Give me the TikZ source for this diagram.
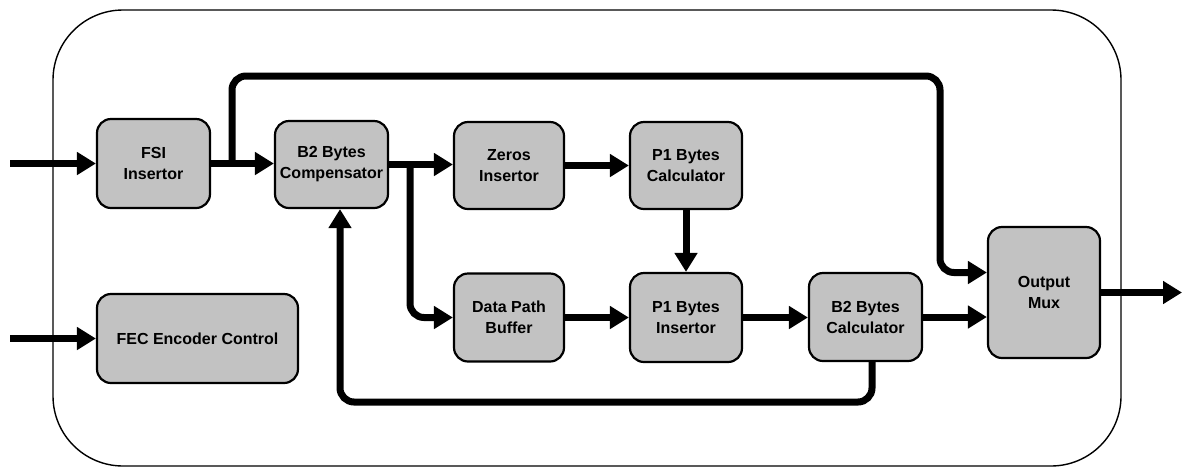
\documentclass[tikz,border=0pt]{standalone}
\usepackage{fontspec}
\setmainfont{Liberation Sans}
\usetikzlibrary{arrows.meta}

\tikzset{
  block/.style={draw=black, line width=2.2pt, rounded corners=14pt, fill=black!24,
    inner sep=0pt, align=center, font=\fontsize{16}{21}\selectfont\bfseries},
  flow/.style={line width=7pt, rounded corners=14pt,
    -{Triangle[length=19pt,width=22pt]}},
  frame/.style={draw=black, line width=1.4pt, rounded corners=70pt}
}

\begin{document}
\begin{tikzpicture}[x=1pt,y=-1pt]
  \useasboundingbox (0,0) rectangle (1185,467);

  % enclosing module outline
  \draw[frame] (53,10) rectangle (1121,466);

  % processing blocks
  \node[block, minimum width=113pt, minimum height=89pt] (fsi)    at (153.5,163.5) {FSI\\Insertor};
  \node[block, minimum width=113pt, minimum height=87pt] (b2comp) at (331.5,164.5) {B2 Bytes\\Compensator};
  \node[block, minimum width=110pt, minimum height=87pt] (zeros)  at (509,165.5)   {Zeros\\Insertor};
  \node[block, minimum width=112pt, minimum height=87pt] (p1calc) at (686,165.5)   {P1 Bytes\\Calculator};
  \node[block, minimum width=110pt, minimum height=88pt] (dpb)    at (509,317.5)   {Data Path\\Buffer};
  \node[block, minimum width=112pt, minimum height=89pt] (p1ins)  at (686,317.5)   {P1 Bytes\\Insertor};
  \node[block, minimum width=113pt, minimum height=88pt] (b2calc) at (865.5,317)   {B2 Bytes\\Calculator};
  \node[block, minimum width=112pt, minimum height=131pt] (mux)   at (1044,292.5)  {Output\\Mux};
  \node[block, minimum width=201pt, minimum height=89pt] (fec)    at (197.5,338.5) {FEC Encoder Control};

  % free ends and bend points of the connectors
  \coordinate (in1)  at (10,163.5);
  \coordinate (in2)  at (10,338.5);
  \coordinate (out)  at (1182,292.5);
  \coordinate (byA)  at (232,76);
  \coordinate (byB)  at (940,76);
  \coordinate (brD)  at (410,0);
  \coordinate (fbL)  at (340,402);
  \coordinate (fbR)  at (872,402);

  % main data path
  \draw[flow] (in1) -- (fsi.west);
  \draw[flow] (fsi.east) -- (fsi.east -| b2comp.west);
  \draw[flow] (b2comp.east) -- (b2comp.east -| zeros.west);
  \draw[flow] (zeros.east) -- (zeros.east -| p1calc.west);
  \draw[flow] (p1calc.south) -- (p1ins.north);
  \draw[flow] (brD |- b2comp.east) |- (dpb.west);
  \draw[flow] (dpb.east) -- (p1ins.west);
  \draw[flow] (p1ins.east) -- (p1ins.east -| b2calc.west);
  \draw[flow] (b2calc.east) -- (b2calc.east -| mux.west);
  \draw[flow] (mux.east) -- (out);

  % bypass from the FSI output straight to the multiplexer
  \draw[flow] (byA |- fsi.east) -- (byA) -- (byB) |- ([yshift=20pt]mux.west);

  % feedback from the B2 calculator to the compensator
  \draw[flow] (fbR |- b2calc.south) -- (fbR) -- (fbL) -- (fbL |- b2comp.south);

  % control input
  \draw[flow] (in2) -- (fec.west);
\end{tikzpicture}
\end{document}
